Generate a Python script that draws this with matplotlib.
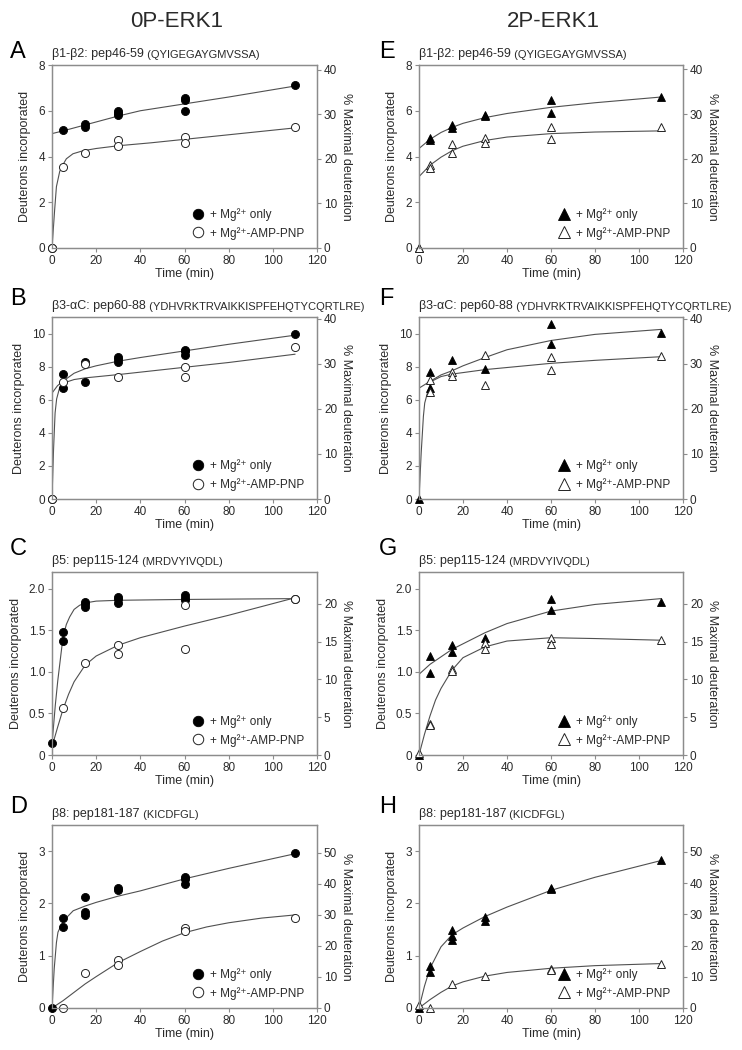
import matplotlib
matplotlib.use("Agg")
import matplotlib.pyplot as plt

plt.rcParams['font.family'] = ['Liberation Sans', 'DejaVu Sans']
plt.rcParams['mathtext.default'] = 'regular'

# ---- data ------------------------------------------------------------------
# A: 0P-ERK1, b1-b2
a_fill_t = [0, 5, 15, 15, 30, 30, 30, 60, 60, 60, 110]
a_fill_y = [0, 5.17, 5.31, 5.42, 5.80, 5.90, 5.97, 6.55, 6.47, 5.97, 7.12]
a_open_t = [0, 5, 15, 30, 30, 60, 60, 110]
a_open_y = [0, 3.56, 4.15, 4.72, 4.48, 4.86, 4.61, 5.28]
a_fitf_t = [0, 0, 5, 15, 30, 40, 60, 80, 110]
a_fitf_y = [0, 5.0, 5.12, 5.38, 5.77, 6.0, 6.3, 6.6, 7.08]
a_fito_t = [0, 1.2, 2, 3.5, 5, 6.5, 9.5, 14, 20, 30, 45, 60, 80, 110]
a_fito_y = [0, 1.67, 2.68, 3.35, 3.65, 3.9, 4.12, 4.25, 4.35, 4.47, 4.6, 4.75, 4.95, 5.25]

# E: 2P-ERK1, b1-b2
e_fill_t = [0, 5, 5, 15, 15, 30, 30, 60, 60, 110]
e_fill_y = [0, 4.8, 4.72, 5.38, 5.24, 5.82, 5.77, 6.47, 5.89, 6.62]
e_open_t = [0, 5, 5, 15, 15, 30, 30, 60, 60, 110]
e_open_y = [0, 3.62, 3.5, 4.55, 4.15, 4.8, 4.61, 5.3, 4.77, 5.27]
e_fitf_t = [0, 0, 5, 10, 15, 20, 30, 40, 60, 80, 110]
e_fitf_y = [0, 4.35, 4.75, 5.05, 5.27, 5.45, 5.7, 5.88, 6.15, 6.35, 6.6]
e_fito_t = [0, 0, 5, 10, 15, 20, 30, 40, 60, 80, 110]
e_fito_y = [0, 3.12, 3.62, 3.97, 4.25, 4.45, 4.7, 4.85, 5.0, 5.07, 5.12]

# B: 0P-ERK1, b3-aC
b_fill_t = [0, 5, 5, 15, 15, 30, 30, 30, 60, 60, 60, 110]
b_fill_y = [0, 7.56, 6.70, 8.28, 7.05, 8.60, 8.46, 8.28, 9.02, 8.92, 8.68, 10.0]
b_open_t = [0, 5, 15, 30, 60, 60, 110]
b_open_y = [0, 7.06, 8.14, 7.40, 7.98, 7.38, 9.18]
b_fitf_t = [0, 0, 2.5, 5, 10, 15, 20, 30, 40, 60, 80, 110]
b_fitf_y = [0, 6.4, 6.85, 7.12, 7.6, 7.87, 8.05, 8.33, 8.55, 8.95, 9.35, 9.9]
b_fito_t = [0, 0.7, 1.4, 2.1, 3.5, 5, 10, 15, 30, 60, 80, 110]
b_fito_y = [0, 3.0, 5.2, 6.05, 6.75, 7.0, 7.22, 7.32, 7.52, 7.96, 8.25, 8.75]

# F: 2P-ERK1, b3-aC
f_fill_t = [0, 5, 5, 15, 30, 60, 60, 110]
f_fill_y = [0, 7.66, 6.72, 8.40, 7.86, 10.6, 9.36, 10.04]
f_open_t = [5, 5, 15, 15, 30, 30, 60, 60, 110]
f_open_y = [7.2, 6.46, 7.68, 7.42, 8.7, 6.9, 8.56, 7.82, 8.62]
f_fitf_t = [0, 0, 5.5, 10, 15, 20, 30, 40, 60, 80, 110]
f_fitf_y = [0, 6.7, 7.15, 7.5, 7.75, 8.05, 8.55, 9.02, 9.58, 9.95, 10.25]
f_fito_t = [0, 1, 2, 2.6, 4, 5.5, 10, 15, 30, 60, 80, 110]
f_fito_y = [0, 2.8, 5.0, 5.8, 6.5, 7.1, 7.4, 7.55, 7.82, 8.2, 8.38, 8.6]

# C: 0P-ERK1, b5
c_fill_t = [0, 5, 5, 15, 15, 15, 30, 30, 30, 60, 60, 60, 110]
c_fill_y = [0.14, 1.48, 1.37, 1.84, 1.81, 1.78, 1.90, 1.87, 1.83, 1.92, 1.89, 1.86, 1.88]
c_open_t = [5, 15, 30, 30, 60, 60, 110]
c_open_y = [0.56, 1.11, 1.32, 1.22, 1.80, 1.28, 1.88]
c_fitf_t = [0, 1.5, 2.6, 4, 5, 6.5, 8, 10, 12.5, 15.5, 20, 30, 60, 110]
c_fitf_y = [0.13, 0.6, 0.89, 1.2, 1.42, 1.57, 1.66, 1.75, 1.8, 1.83, 1.85, 1.86, 1.87, 1.88]
c_fito_t = [0, 2.5, 5, 7.5, 10, 15, 20, 30, 40, 60, 80, 110]
c_fito_y = [0.1, 0.33, 0.55, 0.73, 0.88, 1.08, 1.19, 1.32, 1.41, 1.55, 1.68, 1.89]

# G: 2P-ERK1, b5
g_fill_t = [0, 5, 5, 15, 15, 30, 60, 60, 110]
g_fill_y = [0, 1.19, 0.99, 1.32, 1.24, 1.41, 1.87, 1.74, 1.84]
g_open_t = [0, 5, 5, 15, 15, 30, 30, 60, 60, 110]
g_open_y = [0.02, 0.37, 0.36, 1.03, 1.01, 1.35, 1.27, 1.41, 1.33, 1.38]
g_fitf_t = [0, 0, 5, 15, 30, 40, 60, 80, 110]
g_fitf_y = [0, 0.97, 1.09, 1.27, 1.47, 1.58, 1.73, 1.81, 1.88]
g_fito_t = [0, 2.5, 5, 7.5, 10, 15, 20, 30, 40, 60, 80, 110]
g_fito_y = [0, 0.25, 0.47, 0.66, 0.8, 1.02, 1.17, 1.3, 1.37, 1.41, 1.4, 1.38]

# D: 0P-ERK1, b8
d_fill_t = [0, 5, 5, 15, 15, 15, 30, 30, 60, 60, 60, 110]
d_fill_y = [0, 1.72, 1.55, 2.13, 1.83, 1.78, 2.29, 2.26, 2.50, 2.46, 2.37, 2.97]
d_open_t = [5, 15, 30, 30, 60, 60, 110]
d_open_y = [0.0, 0.66, 0.92, 0.82, 1.53, 1.47, 1.73]
d_fitf_t = [0, 1, 2, 2.7, 5, 9.6, 15, 20, 30, 40, 60, 80, 110]
d_fitf_y = [0, 0.75, 1.25, 1.45, 1.66, 1.86, 1.95, 2.02, 2.14, 2.24, 2.47, 2.67, 2.95]
d_fito_t = [0, 5, 10, 15, 20, 30, 40, 50, 60, 70, 80, 95, 110]
d_fito_y = [0, 0.14, 0.3, 0.46, 0.6, 0.87, 1.08, 1.28, 1.44, 1.55, 1.63, 1.72, 1.78]

# H: 2P-ERK1, b8
h_fill_t = [0, 5, 5, 15, 15, 15, 30, 30, 60, 60, 110]
h_fill_y = [0, 0.8, 0.68, 1.5, 1.37, 1.3, 1.75, 1.67, 2.3, 2.27, 2.84]
h_open_t = [0, 5, 15, 30, 60, 60, 110]
h_open_y = [0.05, 0.0, 0.45, 0.61, 0.75, 0.72, 0.85]
h_fitf_t = [0, 2.5, 5, 10, 15, 20, 30, 40, 60, 80, 110]
h_fitf_y = [0, 0.42, 0.76, 1.17, 1.4, 1.53, 1.75, 1.93, 2.25, 2.5, 2.82]
h_fito_t = [0, 5, 10, 15, 20, 30, 40, 60, 80, 110]
h_fito_y = [0, 0.16, 0.3, 0.42, 0.5, 0.61, 0.68, 0.76, 0.81, 0.85]

pep_names = ["\u03b21-\u03b22: pep46-59", "\u03b23-\u03b1C: pep60-88",
             "\u03b25: pep115-124", "\u03b28: pep181-187"]
pep_seqs = ["(QYIGEGAYGMVSSA)", "(YDHVRKTRVAIKKISPFEHQTYCQRTLRE)",
            "(MRDVYIVQDL)", "(KICDFGL)"]
left_ticks = [[0, 2, 4, 6, 8], [0, 2, 4, 6, 8, 10],
              [0, 0.5, 1.0, 1.5, 2.0], [0, 1, 2, 3]]
left_ticklabels = [["0", "2", "4", "6", "8"], ["0", "2", "4", "6", "8", "10"],
                   ["0", "0.5", "1.0", "1.5", "2.0"], ["0", "1", "2", "3"]]
right_ticks = [[0, 10, 20, 30, 40], [0, 10, 20, 30, 40],
               [0, 5, 10, 15, 20], [0, 10, 20, 30, 40, 50]]
x_ticks = [0, 20, 40, 60, 80, 100, 120]
legend_labels = ["+ Mg\u00b2\u207a only", "+ Mg\u00b2\u207a-AMP-PNP"]

# ---- layout ----------------------------------------------------------------
W, H = 742, 1050
fig = plt.figure(figsize=(W / 100, H / 100), dpi=100)

def px_box(l, t, r, b):
    return [l / W, 1 - b / H, (r - l) / W, (b - t) / H]

row_tb = [(65, 248), (317, 499), (572, 755), (825, 1008)]
col_lr = [(52, 317), (419, 683)]
ylims = [8, 11, 2.2, 3.5]
rlims = [[41.1, 40.4, 24.2, 59.0], [41.0, 40.4, 24.2, 58.6]]

panels = [
    [(a_fill_t, a_fill_y, a_open_t, a_open_y, a_fitf_t, a_fitf_y, a_fito_t, a_fito_y),
     (b_fill_t, b_fill_y, b_open_t, b_open_y, b_fitf_t, b_fitf_y, b_fito_t, b_fito_y),
     (c_fill_t, c_fill_y, c_open_t, c_open_y, c_fitf_t, c_fitf_y, c_fito_t, c_fito_y),
     (d_fill_t, d_fill_y, d_open_t, d_open_y, d_fitf_t, d_fitf_y, d_fito_t, d_fito_y)],
    [(e_fill_t, e_fill_y, e_open_t, e_open_y, e_fitf_t, e_fitf_y, e_fito_t, e_fito_y),
     (f_fill_t, f_fill_y, f_open_t, f_open_y, f_fitf_t, f_fitf_y, f_fito_t, f_fito_y),
     (g_fill_t, g_fill_y, g_open_t, g_open_y, g_fitf_t, g_fitf_y, g_fito_t, g_fito_y),
     (h_fill_t, h_fill_y, h_open_t, h_open_y, h_fitf_t, h_fitf_y, h_fito_t, h_fito_y)],
]
letters = [["A", "B", "C", "D"], ["E", "F", "G", "H"]]
letter_x = [10, 379]
letter_base = [58, 305, 555, 813]

spine_c = "#8c8c8c"
text_c = "#2a2a2a"
line_c = "#505050"

for col in range(2):
    marker = "o" if col == 0 else "^"
    ms = 5.8 if col == 0 else 6.2
    for row in range(4):
        ft, fy, ot, oy, fft, ffy, fot, foy = panels[col][row]
        l, r = col_lr[col]
        t, b = row_tb[row]
        ax = fig.add_axes(px_box(l, t, r, b))
        ax.plot(fft, ffy, color=line_c, lw=0.8, zorder=2)
        ax.plot(fot, foy, color=line_c, lw=0.8, zorder=2)
        ax.plot(ft, fy, ls="none", marker=marker, ms=ms, mfc="black", mec="black",
                mew=0.6, clip_on=False, zorder=3, label=legend_labels[0])
        ax.plot(ot, oy, ls="none", marker=marker, ms=ms, mfc="white", mec="#222222",
                mew=0.7, clip_on=False, zorder=4, label=legend_labels[1])
        ax.set_xlim(0, 120)
        ax.set_ylim(0, ylims[row])
        ax.set_xticks(x_ticks)
        ax.set_yticks(left_ticks[row])
        ax.set_yticklabels(left_ticklabels[row])
        ax.set_xlabel("Time (min)", fontsize=9, color=text_c, labelpad=1)
        ax.set_ylabel("Deuterons incorporated", fontsize=9, color=text_c, labelpad=5)

        ax2 = ax.twinx()
        ax2.set_ylim(0, rlims[col][row])
        ax2.set_yticks(right_ticks[row])
        ax2.set_ylabel("% Maximal deuteration", fontsize=9, color=text_c,
                       rotation=270, va="bottom", labelpad=2)
        for a in (ax, ax2):
            for s in a.spines.values():
                s.set_color(spine_c)
                s.set_linewidth(0.9)
            a.tick_params(direction="out", length=3, width=0.8, color=spine_c,
                          labelcolor=text_c, labelsize=8.5, pad=2)

        leg = ax.legend(loc="lower right", bbox_to_anchor=(0.97, 0.02), frameon=False,
                        fontsize=8.5, handletextpad=0.45, handlelength=1.2,
                        labelspacing=0.45, borderaxespad=0.2, borderpad=0.2,
                        markerscale=1.3)
        for txt in leg.get_texts():
            txt.set_color(text_c)

        t1 = ax.text(0, 1.025, pep_names[row], transform=ax.transAxes, fontsize=9,
                     color=text_c, ha="left", va="bottom")
        ax.annotate(" " + pep_seqs[row], xy=(1, 0), xycoords=t1, fontsize=8,
                    color=text_c, ha="left", va="bottom")

        fig.text(letter_x[col] / W, 1 - letter_base[row] / H, letters[col][row],
                 fontsize=17, color="black", ha="left", va="baseline")

fig.text(177 / W, 1 - 27 / H, "0P-ERK1", fontsize=16, color=text_c,
         ha="center", va="baseline")
fig.text(553 / W, 1 - 27 / H, "2P-ERK1", fontsize=16, color=text_c,
         ha="center", va="baseline")

fig.savefig("out.png", dpi=100)
